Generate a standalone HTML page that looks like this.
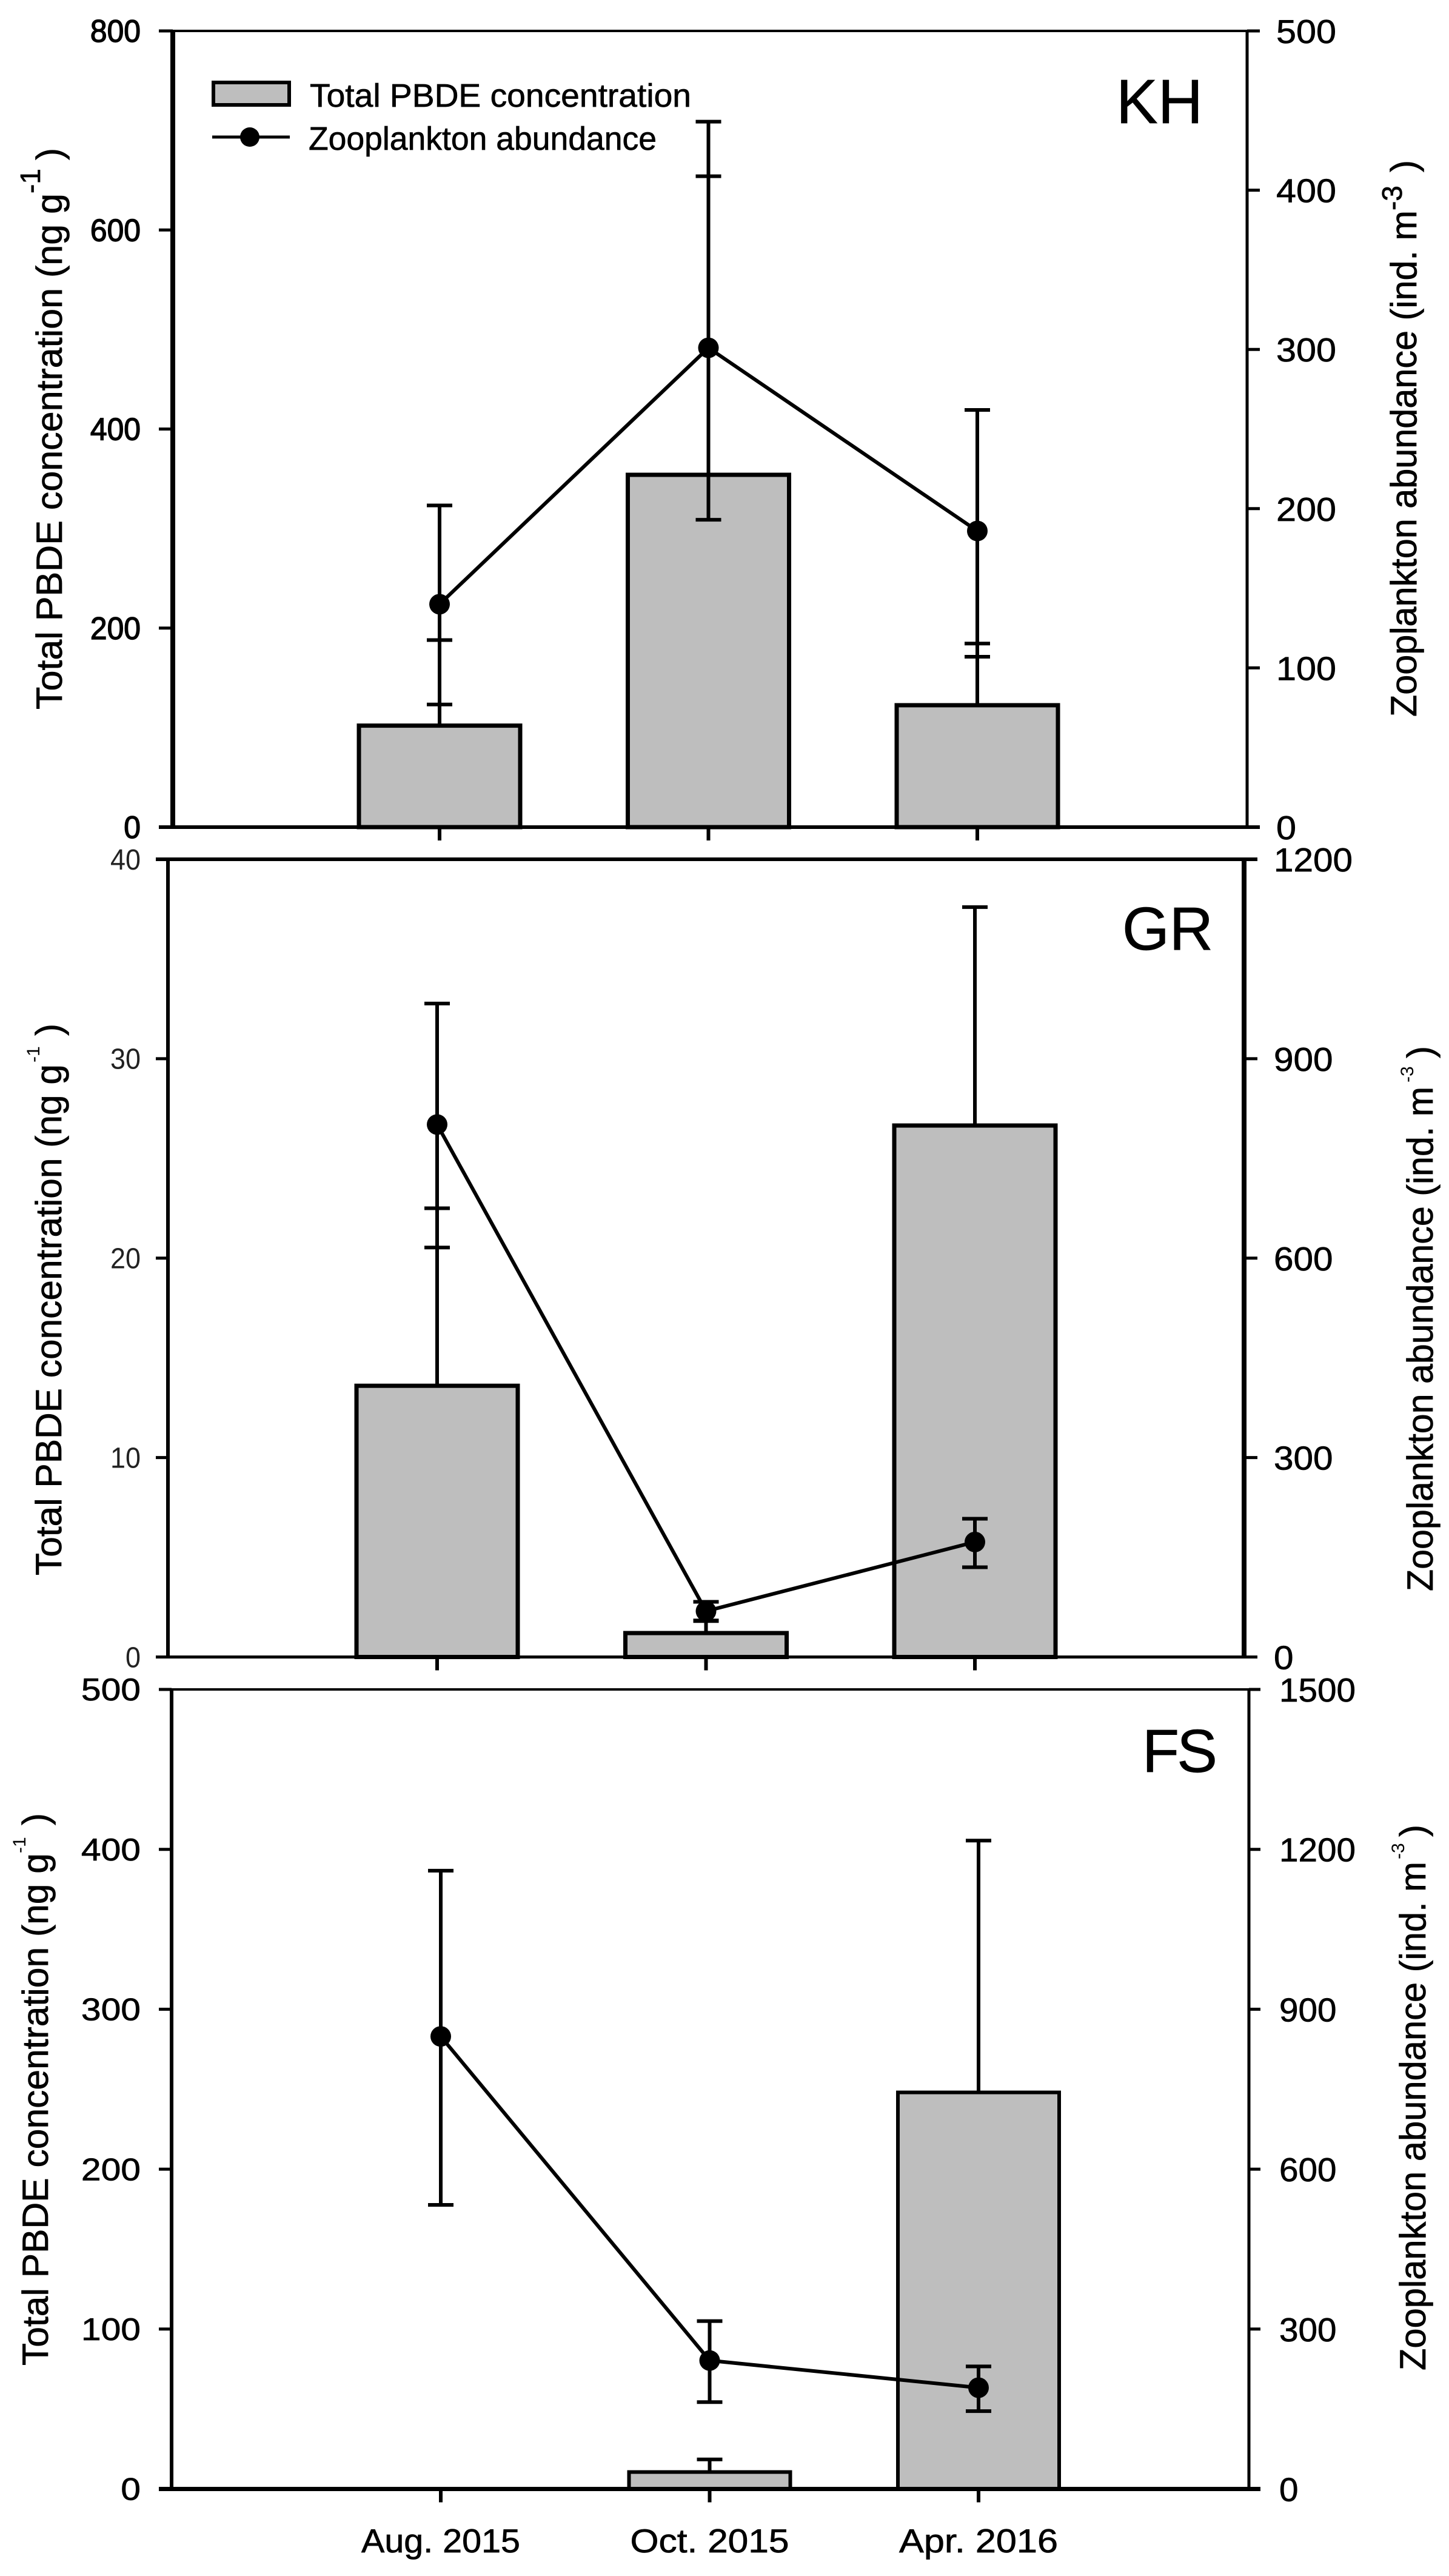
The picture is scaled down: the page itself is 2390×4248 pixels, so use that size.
<!DOCTYPE html>
<html lang="en">
<head>
<meta charset="utf-8">
<title>Total PBDE concentration and zooplankton abundance</title>
<style>
html,body{margin:0;padding:0;background:#fff;}
svg{display:block;}
text{font-family:"Liberation Sans",Arial,sans-serif;fill:#000;stroke:#000;stroke-width:0.7px;}
</style>
</head>
<body>
<svg id="chart" xmlns="http://www.w3.org/2000/svg" width="2390" height="4248" viewBox="0 0 2390 4248">
  <rect x="0" y="0" width="2390" height="4248" fill="#fff"/>
  <g id="marks"></g>

  <g>
    <rect x="352" y="136" width="125" height="37" fill="#bebebe" stroke="#000" stroke-width="6"/>
    <text x="511" y="176" font-size="54" textLength="629" lengthAdjust="spacingAndGlyphs">Total PBDE concentration</text>
    <line x1="350" y1="226" x2="478" y2="226" stroke="#000" stroke-width="5"/>
    <circle cx="412" cy="226" r="16" fill="#000"/>
    <text x="509" y="247" font-size="54" textLength="574" lengthAdjust="spacingAndGlyphs">Zooplankton abundance</text>
  </g>

  <text x="1841" y="203" font-size="103">KH</text>
  <text x="1851" y="1566" font-size="100">GR</text>
  <text x="1884" y="2922" font-size="100" textLength="124" lengthAdjust="spacing">FS</text>

  <g>
    <text transform="translate(102 1170) rotate(-90)" font-size="60" textLength="851" lengthAdjust="spacingAndGlyphs">Total PBDE concentration (ng g</text>
    <text transform="translate(66 319) rotate(-90)" font-size="46">-1</text>
    <text transform="translate(102 264) rotate(-90)" font-size="60">)</text>
  </g>
  <g>
    <text transform="translate(101 2598) rotate(-90)" font-size="60" textLength="843" lengthAdjust="spacingAndGlyphs">Total PBDE concentration (ng g</text>
    <text transform="translate(65 1752) rotate(-90)" font-size="30" style="stroke-width:0">-1</text>
    <text transform="translate(101 1708) rotate(-90)" font-size="60">)</text>
  </g>
  <g>
    <text transform="translate(79 3901) rotate(-90)" font-size="60" textLength="845" lengthAdjust="spacingAndGlyphs">Total PBDE concentration (ng g</text>
    <text transform="translate(42 3056) rotate(-90)" font-size="30" style="stroke-width:0">-1</text>
    <text transform="translate(79 3010) rotate(-90)" font-size="60">)</text>
  </g>

  <g>
    <text transform="translate(2336 1182) rotate(-90)" font-size="60" textLength="835" lengthAdjust="spacingAndGlyphs">Zooplankton abundance (ind. m</text>
    <text transform="translate(2312 347) rotate(-90)" font-size="46">-3</text>
    <text transform="translate(2336 284) rotate(-90)" font-size="60">)</text>
  </g>
  <g>
    <text transform="translate(2363 2624) rotate(-90)" font-size="60" textLength="832" lengthAdjust="spacingAndGlyphs">Zooplankton abundance (ind. m</text>
    <text transform="translate(2331 1785) rotate(-90)" font-size="30" style="stroke-width:0">-3</text>
    <text transform="translate(2363 1745) rotate(-90)" font-size="60">)</text>
  </g>
  <g>
    <text transform="translate(2351 3909) rotate(-90)" font-size="60" textLength="839" lengthAdjust="spacingAndGlyphs">Zooplankton abundance (ind. m</text>
    <text transform="translate(2316 3066) rotate(-90)" font-size="30" style="stroke-width:0">-3</text>
    <text transform="translate(2351 3029) rotate(-90)" font-size="60">)</text>
  </g>
</svg>

<script>
// Categories
const categories = ["Aug. 2015", "Oct. 2015", "Apr. 2016"];

// KH panel values
const khPbde = [102, 354, 122.5];
const khPbdeErr = [188, 654, 184.5];
const khZoo = [140, 301, 186];
const khZooHi = [202, 443, 262];
const khZooLo = [77, 193, 107];
const khLeftTicks = [0, 200, 400, 600, 800];
const khRightTicks = [0, 100, 200, 300, 400, 500];

// GR panel values
const grPbde = [13.6, 1.2, 26.65];
const grPbdeErr = [22.5, 1.8, 37.6];
const grZoo = [801, 69, 173];
const grZooHi = [983, 83, 208];
const grZooLo = [616, 55, 135];
const grLeftTicks = [0, 10, 20, 30, 40];
const grRightTicks = [0, 300, 600, 900, 1200];

// FS panel values (no bar in Aug. 2015)
const fsPbde = [0, 10.6, 248];
const fsPbdeErr = [null, 18.5, 405.5];
const fsZoo = [849, 241, 190];
const fsZooHi = [1160, 315, 230];
const fsZooLo = [533, 163, 146];
const fsLeftTicks = [0, 100, 200, 300, 400, 500];
const fsRightTicks = [0, 300, 600, 900, 1200, 1500];

const NS = "http://www.w3.org/2000/svg";
const root = document.getElementById("marks");

function mk(parent, tag, attrs, txt) {
  const el = document.createElementNS(NS, tag);
  for (const k in attrs) el.setAttribute(k, attrs[k]);
  if (txt !== undefined) el.textContent = txt;
  parent.appendChild(el);
  return el;
}

function drawPanel(p) {
  const g = mk(root, "g", {});
  
  

  const leftMax = p.leftTicks[p.leftTicks.length - 1];
  const rightMax = p.rightTicks[p.rightTicks.length - 1];
  const yLeft = v => p.bottom - v / leftMax * (p.bottom - p.top);
  const yRight = v => p.bottom - v / rightMax * (p.bottom - p.top);
  const xCat = i => p.x0 + i * p.dx;

  // bars and their error bars
  p.pbde.forEach((v, i) => {
    const cx = xCat(i);
    if (p.pbdeErr[i] !== null) {
      const e = mk(g, "path", {
        d: `M${cx} ${yLeft(v)}V${yLeft(p.pbdeErr[i])}M${cx - 21} ${yLeft(p.pbdeErr[i])}H${cx + 21}`,
        fill: "none", stroke: "#000", "stroke-width": p.errW
      });
      
      
    }
    const b = mk(g, "rect", {
      x: cx - 133, y: yLeft(v), width: 266, height: p.bottom - yLeft(v),
      fill: "#bebebe", stroke: "#000", "stroke-width": p.barW
    });
    
    
  });

  // axes
  const frame = [
    [p.left, p.top, p.left, p.bottom, p.lw],
    [p.left - p.tickL, p.top, p.right + p.tickR, p.top, p.tw],
    [p.right, p.top, p.right, p.bottom, p.rw],
    [p.left - p.tickL, p.bottom, p.right + p.tickR, p.bottom, p.bw]
  ];
  frame.forEach((f, i) => {
    const a = mk(g, "line", { x1: f[0], y1: f[1], x2: f[2], y2: f[3], stroke: "#000", "stroke-width": f[4] });
    
    
  });

  // left ticks
  p.leftTicks.forEach(t => {
    const y = yLeft(t);
    const tk = mk(g, "line", { x1: p.left - p.tickL, y1: y, x2: p.left, y2: y, stroke: "#000", "stroke-width": 5 });
    
    
    const s = String(t);
    const lb = mk(g, "text", {
      x: 232, y: y + p.leftSize * 0.35, "font-size": p.leftSize, "text-anchor": "end",
      textLength: s.length * p.leftChar, lengthAdjust: "spacingAndGlyphs",
      style: `fill:${p.leftFill};stroke:${p.leftFill};stroke-width:${p.leftStroke}px`
    }, s);
    
    
  });

  // right ticks
  p.rightTicks.forEach(t => {
    const y = yRight(t);
    const tk = mk(g, "line", { x1: p.right, y1: y, x2: p.right + p.tickR, y2: y, stroke: "#000", "stroke-width": 5 });
    
    
    const s = String(t);
    const lb = mk(g, "text", {
      x: p.rightX, y: y + 20, "font-size": 55,
      textLength: s.length * p.rightChar, lengthAdjust: "spacingAndGlyphs"
    }, s);
    
    
  });

  // x ticks and labels
  categories.forEach((c, i) => {
    const tk = mk(g, "line", { x1: xCat(i), y1: p.bottom, x2: xCat(i), y2: p.bottom + 22, stroke: "#000", "stroke-width": 6 });
    
    
    if (p.showX) {
      const lb = mk(g, "text", {
        x: xCat(i), y: 4209, "font-size": 55, "text-anchor": "middle",
        textLength: 262, lengthAdjust: "spacingAndGlyphs"
      }, c);
      
      
    }
  });

  // zooplankton error bars
  p.zoo.forEach((v, i) => {
    const cx = xCat(i);
    const hi = yRight(p.zooHi[i]);
    const lo = yRight(p.zooLo[i]);
    const e = mk(g, "path", {
      d: `M${cx} ${hi}V${lo}M${cx - 21} ${hi}H${cx + 21}M${cx - 21} ${lo}H${cx + 21}`,
      fill: "none", stroke: "#000", "stroke-width": p.errW
    });
    
    
  });

  // zooplankton line
  const pts = p.zoo.map((v, i) => xCat(i) + "," + yRight(v)).join(" ");
  const ln = mk(g, "polyline", { points: pts, fill: "none", stroke: "#000", "stroke-width": 6 });
  
  

  p.zoo.forEach((v, i) => {
    const m = mk(g, "circle", { cx: xCat(i), cy: yRight(v), r: 17, fill: "#000" });
    
    
  });
}

drawPanel({
  id: "kh", pbde: khPbde, pbdeErr: khPbdeErr, zoo: khZoo, zooHi: khZooHi, zooLo: khZooLo,
  leftTicks: khLeftTicks, rightTicks: khRightTicks,
  left: 285, right: 2057, top: 51, bottom: 1364, x0: 725, dx: 443.5,
  tickL: 23, tickR: 21, lw: 8, tw: 4, rw: 5, bw: 6, barW: 7, errW: 6,
  leftSize: 52, leftChar: 27.7, leftFill: "#000", leftStroke: 1.4, rightChar: 33, rightX: 2105, showX: false
});
drawPanel({
  id: "gr", pbde: grPbde, pbdeErr: grPbdeErr, zoo: grZoo, zooHi: grZooHi, zooLo: grZooLo,
  leftTicks: grLeftTicks, rightTicks: grRightTicks,
  left: 277, right: 2052, top: 1417, bottom: 2732.5, x0: 721, dx: 443.5,
  tickL: 20, tickR: 22, lw: 6, tw: 6, rw: 8, bw: 5, barW: 7, errW: 6,
  leftSize: 48, leftChar: 25, leftFill: "#222", leftStroke: 0, rightChar: 32.5, rightX: 2101, showX: false
});
drawPanel({
  id: "fs", pbde: fsPbde, pbdeErr: fsPbdeErr, zoo: fsZoo, zooHi: fsZooHi, zooLo: fsZooLo,
  leftTicks: fsLeftTicks, rightTicks: fsRightTicks,
  left: 283, right: 2060, top: 2786, bottom: 4104.5, x0: 727, dx: 443.5,
  tickL: 21, tickR: 19, lw: 6, tw: 4, rw: 5, bw: 7, barW: 6, errW: 6,
  leftSize: 52, leftChar: 32.7, leftFill: "#000", leftStroke: 0.7, rightChar: 31.5, rightX: 2110, showX: true
});
</script>
</body>
</html>
